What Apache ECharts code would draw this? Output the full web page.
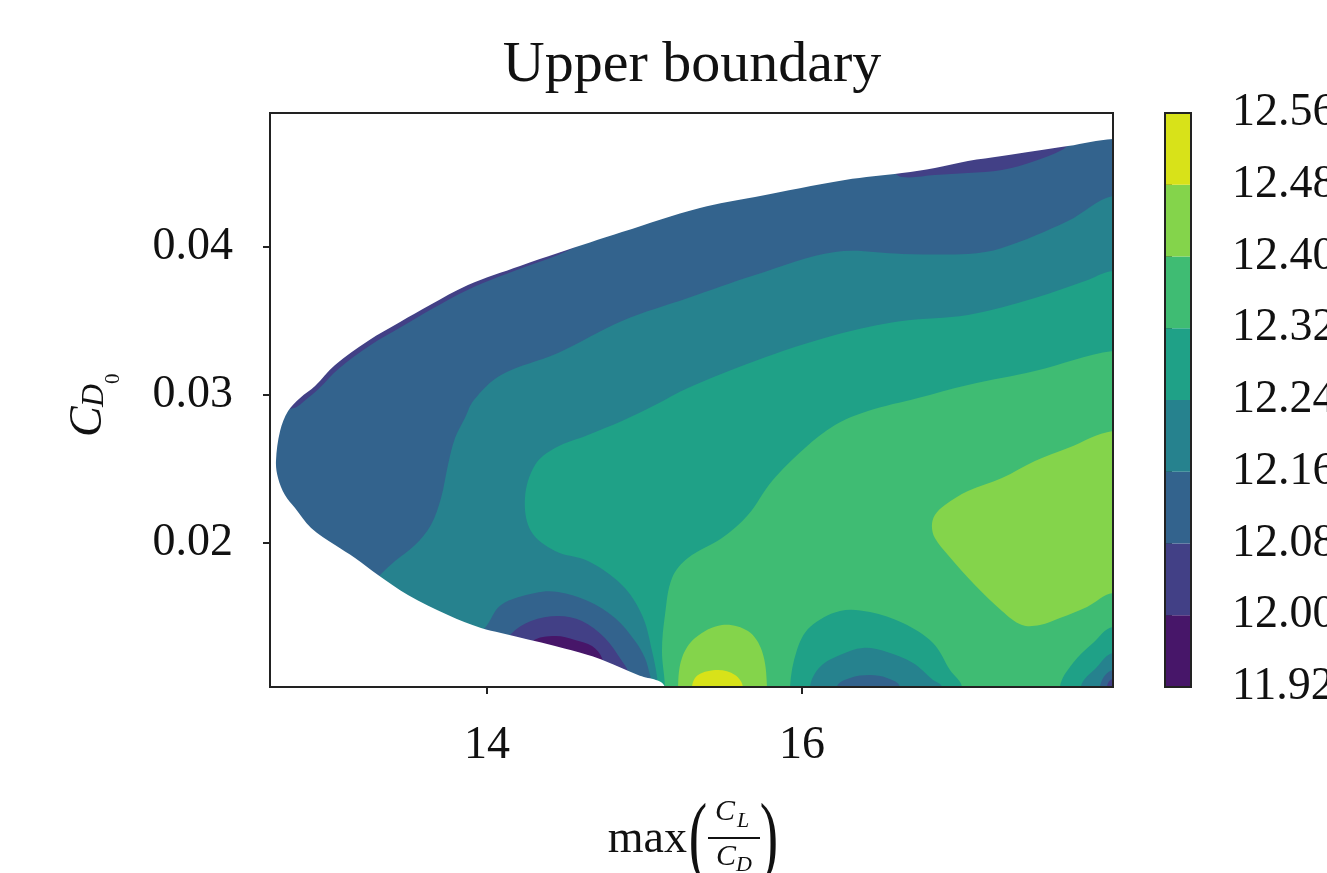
<!DOCTYPE html>
<html>
<head>
<meta charset="utf-8">
<title>Upper boundary</title>
<script src="https://cdn.jsdelivr.net/npm/echarts@6/dist/echarts.min.js"></script>
<style>
  html, body { margin: 0; padding: 0; background: #fff; }
  #main { width: 1327px; height: 873px; }
</style>
</head>
<body>
<div id="main"></div>
<script>
// axis limits and ticks
const xRange = [12.622, 17.975];
const yRange = [0.01027, 0.04905];
const xTicks = [14, 16];
const yTicks = [0.02, 0.03, 0.04];

// contour levels (colorbar ticks) and the colour of each band
const levels = [11.92, 12.00, 12.08, 12.16, 12.24, 12.32, 12.40, 12.48, 12.56];
const bandColors = ['#471669', '#424086', '#33638d', '#26828e', '#1fa187', '#3fbc73', '#84d44b', '#d8e219'];

// edge of the filled region, [max(CL/CD), CD0], both start at the left tip
const topEdge = [[12.660, 0.02554], [12.686, 0.02757], [12.737, 0.02892], [12.813, 0.02980], [12.908, 0.03061],
  [13.035, 0.03203], [13.244, 0.03365], [13.448, 0.03493], [13.638, 0.03608], [13.879, 0.03743], [14.210, 0.03872],
  [14.451, 0.03959], [14.857, 0.04101], [15.352, 0.04264], [15.702, 0.04338], [16.273, 0.04453], [16.635, 0.04500],
  [16.844, 0.04534], [17.054, 0.04581], [17.270, 0.04615], [17.479, 0.04649], [17.689, 0.04682], [17.975, 0.04730]];
const bottomEdge = [[12.660, 0.02554], [12.673, 0.02439], [12.717, 0.02324], [12.781, 0.02236], [12.883, 0.02101],
  [13.035, 0.01986], [13.162, 0.01899], [13.308, 0.01784], [13.498, 0.01649], [13.752, 0.01514], [13.962, 0.01426],
  [14.089, 0.01392], [14.432, 0.01304], [14.641, 0.01243], [14.749, 0.01203], [14.959, 0.01108], [15.130, 0.01027]];

// 12.08 line under the thin purple rim along the top
const edge1208 = [[12.622, 0.02899], [12.775, 0.02912], [12.851, 0.02970], [12.933, 0.03044], [13.060, 0.03179],
  [13.257, 0.03335], [13.460, 0.03463], [13.644, 0.03578], [13.886, 0.03715], [14.210, 0.03852], [14.451, 0.03946],
  [14.717, 0.04074], [15.352, 0.04318], [15.987, 0.04453], [16.527, 0.04534], [16.635, 0.04473], [16.844, 0.04486],
  [17.054, 0.04500], [17.270, 0.04520], [17.479, 0.04581], [17.651, 0.04655], [17.733, 0.04723], [17.975, 0.04777]];

// main contour lines, from the right edge down to the bottom
const line1216 = [[17.975, 0.04345], [17.689, 0.04176], [17.270, 0.03993], [17.054, 0.03953], [16.635, 0.03953],
  [16.210, 0.03966], [15.702, 0.03811], [15.276, 0.03655], [14.857, 0.03500], [14.451, 0.03284], [14.089, 0.03135],
  [13.917, 0.02966], [13.860, 0.02845], [13.797, 0.02709], [13.752, 0.02527], [13.708, 0.02304], [13.644, 0.02122],
  [13.543, 0.01986], [13.416, 0.01878], [13.321, 0.01784], [13.200, 0.01650]];
const line1224 = [[17.975, 0.03838], [17.797, 0.03770], [17.479, 0.03655], [17.054, 0.03541], [16.635, 0.03500],
  [16.210, 0.03405], [15.702, 0.03230], [15.276, 0.03047], [15.067, 0.02932], [14.857, 0.02824], [14.641, 0.02730],
  [14.432, 0.02642], [14.305, 0.02527], [14.241, 0.02304], [14.279, 0.02081], [14.432, 0.01946], [14.641, 0.01878],
  [14.857, 0.01716], [14.984, 0.01514], [15.048, 0.01270], [15.086, 0.01027]];
const line1232 = [[17.975, 0.03297], [17.479, 0.03162], [17.054, 0.03068], [16.737, 0.02980], [16.419, 0.02892],
  [16.210, 0.02797], [16.019, 0.02642], [15.810, 0.02419], [15.657, 0.02189], [15.492, 0.02034], [15.276, 0.01899],
  [15.175, 0.01764], [15.130, 0.01514], [15.111, 0.01270], [15.130, 0.01027]];

// high spots
const blob1240 = [[17.975, 0.02757], [17.689, 0.02642], [17.479, 0.02554], [17.270, 0.02439], [17.054, 0.02351],
  [16.908, 0.02257], [16.844, 0.02189], [16.825, 0.02115], [16.844, 0.02034], [16.927, 0.01919], [17.098, 0.01716],
  [17.270, 0.01541], [17.397, 0.01446], [17.511, 0.01446], [17.638, 0.01493], [17.810, 0.01568], [17.975, 0.01662]];
const bump1240 = [[15.213, 0.01027], [15.238, 0.01223], [15.321, 0.01358], [15.492, 0.01446], [15.657, 0.01405],
  [15.746, 0.01270], [15.778, 0.01027]];
const bump1248 = [[15.302, 0.01027], [15.340, 0.01108], [15.467, 0.01142], [15.575, 0.01108], [15.625, 0.01027]];

// low pockets along the bottom
const pitA1216 = [[13.892, 0.01345], [13.987, 0.01426], [14.089, 0.01581], [14.305, 0.01662], [14.451, 0.01669],
  [14.641, 0.01608], [14.813, 0.01493], [14.940, 0.01338], [15.003, 0.01223], [15.035, 0.01108], [15.060, 0.01000]];
const pitA1208 = [[14.114, 0.01277], [14.152, 0.01385], [14.279, 0.01473], [14.451, 0.01507], [14.603, 0.01473],
  [14.749, 0.01358], [14.857, 0.01203], [14.895, 0.01135], [14.930, 0.01000]];
const pitA1200 = [[14.260, 0.01210], [14.292, 0.01338], [14.432, 0.01372], [14.559, 0.01345], [14.667, 0.01304],
  [14.730, 0.01223], [14.770, 0.01000]];
const pitB1232 = [[15.924, 0.01027], [15.968, 0.01277], [16.051, 0.01432], [16.241, 0.01541], [16.432, 0.01534],
  [16.641, 0.01459], [16.832, 0.01324], [16.940, 0.01142], [17.016, 0.01027]];
const pitB1224 = [[16.051, 0.01027], [16.114, 0.01162], [16.241, 0.01243], [16.387, 0.01291], [16.540, 0.01264],
  [16.705, 0.01189], [16.832, 0.01074], [16.889, 0.01027]];
const pitB1216 = [[16.222, 0.01027], [16.305, 0.01088], [16.432, 0.01108], [16.540, 0.01088], [16.622, 0.01027]];
const pitC1232 = [[17.975, 0.01432], [17.848, 0.01324], [17.721, 0.01189], [17.638, 0.01027]];
const pitC1224 = [[17.975, 0.01257], [17.873, 0.01162], [17.771, 0.01027]];
const pitC1216 = [[17.975, 0.01142], [17.892, 0.01027]];
const pitC1208 = [[17.975, 0.01081], [17.937, 0.01027]];

const font = 'Liberation Serif';
const ink = '#111';
const frameColor = '#222';

// closing points outside the plot (clipped away)
const X0 = xRange[0] - 0.5, X1 = xRange[1] + 0.5;
const Y0 = yRange[0] - 0.005, Y1 = yRange[1] + 0.005;

function last(pts) { return pts[pts.length - 1]; }
function toCorner(pts) { return pts.concat([[last(pts)[0], Y0], [X1, Y0], [X1, pts[0][1]]]); }
function toBottom(pts) { return pts.concat([[last(pts)[0], Y0], [pts[0][0], Y0]]); }
function toRight(pts) { return pts.concat([[X1, last(pts)[1]], [X1, pts[0][1]]]); }

// white mask around the region: top edge backwards, round the tip, then the bottom edge
const outside = [[X0, Y1], [X1, Y1], [X1, last(topEdge)[1]]]
  .concat(topEdge.slice().reverse(), bottomEdge.slice(1), [[last(bottomEdge)[0], Y0], [X0, Y0]]);

// painted in order, later ones on top
const layers = [
  { band: 2, flat: true, pts: [[X0, Y0], [X1, Y0], [X1, Y1], [X0, Y1]] },
  { band: 1, pts: [[X0, edge1208[0][1]]].concat(edge1208, [[X1, last(edge1208)[1]], [X1, Y1], [X0, Y1]]) },
  { band: 3, pts: toCorner(line1216) },
  { band: 4, pts: toCorner(line1224) },
  { band: 5, pts: toCorner(line1232) },
  { band: 6, pts: toRight(blob1240) },
  { band: 6, pts: toBottom(bump1240) },
  { band: 7, pts: toBottom(bump1248) },
  { band: 2, pts: toBottom(pitA1216) },
  { band: 1, pts: toBottom(pitA1208) },
  { band: 0, pts: toBottom(pitA1200) },
  { band: 4, pts: toBottom(pitB1232) },
  { band: 3, pts: toBottom(pitB1224) },
  { band: 2, pts: toBottom(pitB1216) },
  { band: 4, pts: toCorner(pitC1232) },
  { band: 3, pts: toCorner(pitC1224) },
  { band: 2, pts: toCorner(pitC1216) },
  { band: 1, pts: toCorner(pitC1208) },
  { color: '#ffffff', pts: outside }
];

function frame(params) {
  const c = params.coordSys;
  return {
    type: 'rect',
    shape: { x: c.x, y: c.y, width: c.width, height: c.height },
    style: { fill: 'none', stroke: frameColor, lineWidth: 2 }
  };
}

const chart = echarts.init(document.getElementById('main'));

const tickStyle = { color: frameColor, width: 2 };
const labelStyle = { fontFamily: font, fontSize: 46, color: ink };

const option = {
  backgroundColor: '#ffffff',
  animation: false,
  grid: [
    { left: 270, top: 113, width: 843, height: 574, outerBoundsMode: 'none' },
    { left: 1165, top: 113, width: 26, height: 574, outerBoundsMode: 'none' }
  ],
  xAxis: [
    {
      type: 'value', gridIndex: 0, min: xRange[0], max: xRange[1],
      axisLine: { show: false },
      splitLine: { show: false },
      axisTick: { show: true, length: 7, lineStyle: tickStyle, customValues: xTicks },
      axisLabel: Object.assign({ margin: 36, customValues: xTicks, formatter: v => String(v) }, labelStyle)
    },
    { type: 'value', gridIndex: 1, min: 0, max: 1, show: false }
  ],
  yAxis: [
    {
      type: 'value', gridIndex: 0, min: yRange[0], max: yRange[1],
      axisLine: { show: false },
      splitLine: { show: false },
      axisTick: { show: true, length: 7, lineStyle: tickStyle, customValues: yTicks },
      axisLabel: Object.assign({ margin: 37, customValues: yTicks, formatter: v => v.toFixed(2) }, labelStyle)
    },
    {
      type: 'value', gridIndex: 1, position: 'right', min: levels[0], max: levels[levels.length - 1],
      axisLine: { show: false },
      splitLine: { show: false },
      axisTick: { show: true, length: 7, lineStyle: tickStyle, customValues: levels },
      axisLabel: Object.assign({ margin: 41, customValues: levels, formatter: v => v.toFixed(2) }, labelStyle)
    }
  ],
  series: [
    {
      // filled contour bands
      type: 'custom', xAxisIndex: 0, yAxisIndex: 0, clip: true, silent: true,
      data: layers.map(l => l.pts[0]),
      renderItem: function (params, api) {
        const layer = layers[params.dataIndex];
        return {
          type: 'polygon',
          z2: params.dataIndex,
          shape: { points: layer.pts.map(p => api.coord(p)), smooth: layer.flat ? 0 : 0.35 },
          style: { fill: layer.color || bandColors[layer.band] }
        };
      }
    },
    {
      type: 'custom', xAxisIndex: 0, yAxisIndex: 0, silent: true, z: 5,
      data: [[xRange[0], yRange[0]]],
      renderItem: frame
    },
    {
      // colorbar
      type: 'custom', xAxisIndex: 1, yAxisIndex: 1, silent: true,
      data: bandColors.map((c, i) => [0, levels[i]]),
      renderItem: function (params, api) {
        const i = params.dataIndex;
        const a = api.coord([0, levels[i + 1]]);
        const b = api.coord([1, levels[i]]);
        return {
          type: 'rect',
          shape: { x: a[0], y: a[1], width: b[0] - a[0], height: b[1] - a[1] },
          style: { fill: bandColors[i] }
        };
      }
    },
    {
      type: 'custom', xAxisIndex: 1, yAxisIndex: 1, silent: true, z: 5,
      data: [[0, levels[0]]],
      renderItem: frame
    }
  ],
  graphic: [
    {
      type: 'text', x: 692, y: 66, z: 10,
      style: { text: 'Upper boundary', fontFamily: font, fontSize: 58, fill: ink, align: 'center', verticalAlign: 'middle' }
    },
    // x label: max(CL / CD)
    {
      type: 'text', x: 687, y: 840, z: 10,
      style: { text: 'max', fontFamily: font, fontSize: 46, fill: ink, align: 'right', verticalAlign: 'middle' }
    },
    {
      type: 'text', x: 698, y: 842, scaleX: 0.6, z: 10,
      style: { text: '(', fontFamily: font, fontSize: 92, fill: ink, align: 'center', verticalAlign: 'middle' }
    },
    {
      type: 'text', x: 715, y: 812, z: 10,
      style: { text: 'C', fontFamily: font, fontStyle: 'italic', fontSize: 30, fill: ink, verticalAlign: 'middle' }
    },
    {
      type: 'text', x: 737, y: 821, z: 10,
      style: { text: 'L', fontFamily: font, fontStyle: 'italic', fontSize: 22, fill: ink, verticalAlign: 'middle' }
    },
    {
      type: 'rect', z: 10,
      shape: { x: 708, y: 837, width: 52, height: 2 },
      style: { fill: ink }
    },
    {
      type: 'text', x: 716, y: 857, z: 10,
      style: { text: 'C', fontFamily: font, fontStyle: 'italic', fontSize: 30, fill: ink, verticalAlign: 'middle' }
    },
    {
      type: 'text', x: 736, y: 865, z: 10,
      style: { text: 'D', fontFamily: font, fontStyle: 'italic', fontSize: 22, fill: ink, verticalAlign: 'middle' }
    },
    {
      type: 'text', x: 769, y: 842, scaleX: 0.6, z: 10,
      style: { text: ')', fontFamily: font, fontSize: 92, fill: ink, align: 'center', verticalAlign: 'middle' }
    },
    // y label: C_{D_0}, reading upwards
    {
      type: 'group', x: 103, y: 437, rotation: Math.PI / 2, z: 10,
      children: [
        { type: 'text', x: 0, y: -14,
          style: { text: 'C', fontFamily: font, fontStyle: 'italic', fontSize: 46, fill: ink, verticalAlign: 'middle' } },
        { type: 'text', x: 30, y: -8,
          style: { text: 'D', fontFamily: font, fontStyle: 'italic', fontSize: 32, fill: ink, verticalAlign: 'middle' } },
        { type: 'text', x: 53, y: 10,
          style: { text: '0', fontFamily: font, fontSize: 21, fill: ink, verticalAlign: 'middle' } }
      ]
    }
  ]
};

chart.setOption(option);
</script>
</body>
</html>
